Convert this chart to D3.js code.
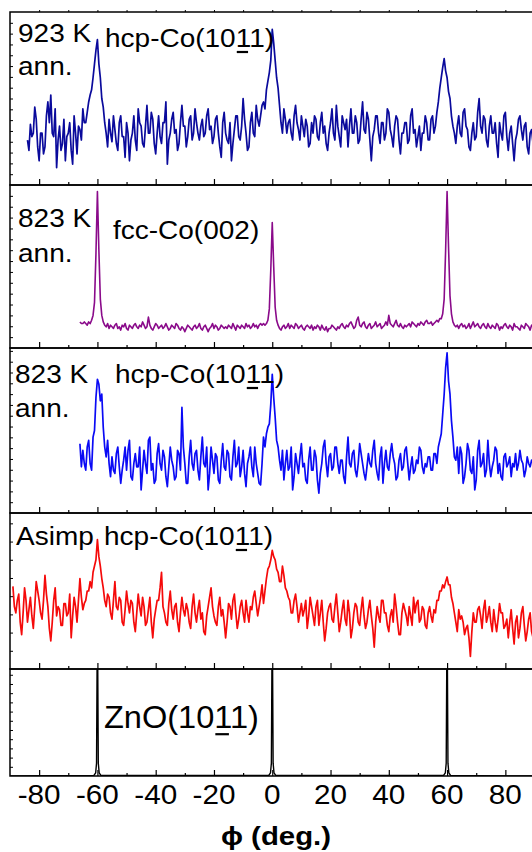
<!DOCTYPE html>
<html><head><meta charset="utf-8">
<script src="https://cdn.jsdelivr.net/npm/d3@7"></script>
<style>
html,body{margin:0;padding:0;background:#fff;overflow:hidden;}
svg{display:block;}
text{font-family:"Liberation Sans",Arial,sans-serif;fill:#000;}
</style></head>
<body>
<svg id="chart" width="532" height="852"></svg>
<script>
// ---------------- DATA ----------------
const phiDomain = [-90, 90];
const majorTicks = [-80, -60, -40, -20, 0, 20, 40, 60, 80];
const minorTicks = [-70, -50, -30, -10, 10, 30, 50, 70];
const tickLabels = ["-80", "-60", "-40", "-20", "0", "20", "40", "60", "80"];
const xTitle = "\u03D5 (deg.)";
const phiStep = 0.5;

// Panel 1: 923 K ann., hcp-Co(10-11), phi from -84 to 90
const start923hcp = -84;
const int923hcp = [
  26, 20, 35, 28, 30, 45, 38, 22, 14, 30, 30, 18, 22, 40, 48, 36, 52, 30, 28, 44,
  10, 26, 34, 20, 24, 38, 14, 28, 30, 36, 20, 12, 40, 30, 18, 34, 32, 26, 44, 36,
  36, 42, 48, 52, 55, 62, 70, 78, 84, 70, 62, 50, 45, 36, 30, 22, 38, 30, 25, 40,
  32, 24, 20, 36, 40, 28, 28, 16, 36, 30, 14, 26, 30, 40, 26, 20, 44, 36, 34, 24,
  22, 34, 46, 30, 30, 42, 38, 24, 18, 30, 40, 28, 24, 36, 36, 48, 12, 26, 30, 38,
  42, 30, 32, 20, 24, 36, 46, 34, 34, 22, 28, 38, 40, 26, 30, 44, 36, 30, 26, 34,
  38, 28, 30, 40, 44, 32, 34, 24, 28, 38, 40, 30, 22, 16, 36, 42, 30, 26, 24, 36,
  14, 24, 32, 40, 40, 28, 26, 34, 50, 38, 30, 20, 22, 36, 42, 30, 28, 46, 38, 34,
  40, 46, 48, 44, 55, 60, 65, 72, 90, 82, 72, 62, 56, 46, 36, 30, 44, 38, 30, 36,
  38, 30, 26, 40, 46, 36, 32, 26, 40, 34, 28, 38, 34, 22, 24, 36, 30, 40, 38, 28,
  26, 36, 42, 30, 34, 24, 20, 30, 36, 44, 30, 26, 46, 34, 28, 22, 40, 36, 32, 38,
  22, 34, 44, 30, 30, 40, 36, 24, 26, 38, 48, 32, 30, 42, 38, 26, 14, 28, 32, 40,
  40, 30, 24, 36, 36, 26, 30, 44, 42, 32, 28, 22, 34, 40, 38, 26, 18, 30, 30, 36,
  36, 24, 26, 40, 44, 30, 32, 22, 28, 34, 20, 30, 30, 40, 36, 26, 26, 38, 40, 30,
  34, 42, 48, 56, 62, 68, 73, 66, 62, 54, 50, 40, 34, 30, 24, 34, 40, 30, 28, 42,
  44, 34, 32, 22, 20, 30, 36, 26, 28, 42, 50, 34, 30, 40, 38, 26, 22, 34, 40, 30,
  30, 36, 24, 16, 36, 30, 26, 40, 42, 28, 20, 30, 34, 24, 14, 26, 30, 38, 40, 32,
  26, 34, 36, 22, 18, 30, 32, 24, 28
];

// Panel 2: 823 K ann., fcc-Co(002), phi from -66 to 90
const start823fcc = -66;
const int823fcc = [
  16, 15, 15, 16, 15, 14, 16, 15, 17, 20, 28, 58, 96, 60, 30, 20, 16, 14, 13, 15,
  12, 14, 13, 12, 14, 15, 12, 13, 11, 14, 13, 15, 12, 11, 14, 13, 12, 14, 15, 13,
  12, 14, 13, 16, 14, 12, 13, 19, 14, 12, 11, 13, 15, 14, 12, 13, 14, 12, 13, 15,
  13, 11, 12, 14, 13, 12, 15, 14, 12, 11, 13, 12, 10, 12, 14, 13, 12, 11, 13, 14,
  12, 13, 15, 12, 11, 13, 14, 12, 10, 12, 13, 15, 12, 14, 13, 11, 12, 14, 13, 12,
  13, 12, 14, 13, 12, 15, 13, 11, 14, 13, 12, 14, 13, 12, 15, 13, 14, 12, 13, 15,
  13, 14, 12, 14, 15, 14, 15, 14, 15, 17, 24, 48, 77, 50, 25, 17, 14, 12, 11, 13,
  14, 12, 13, 15, 12, 14, 13, 12, 15, 14, 12, 13, 14, 12, 11, 13, 14, 13, 12, 14,
  11, 13, 12, 14, 13, 11, 14, 12, 11, 13, 10, 12, 12, 14, 13, 12, 11, 13, 12, 14,
  15, 13, 12, 14, 13, 15, 16, 14, 12, 13, 17, 19, 14, 13, 15, 16, 13, 12, 14, 15,
  12, 13, 14, 16, 13, 14, 15, 12, 13, 14, 16, 14, 20, 15, 14, 13, 15, 17, 14, 13,
  15, 13, 12, 14, 13, 14, 15, 13, 16, 15, 14, 13, 15, 14, 16, 15, 14, 16, 17, 15,
  15, 16, 14, 15, 16, 17, 16, 18, 18, 21, 30, 60, 96, 62, 32, 21, 16, 14, 13, 14,
  12, 14, 15, 13, 14, 12, 13, 15, 12, 14, 16, 13, 14, 15, 13, 12, 14, 15, 13, 12,
  15, 13, 12, 14, 13, 12, 15, 14, 11, 13, 12, 14, 15, 13, 12, 14, 13, 11, 15, 13,
  13, 12, 11, 14, 13, 12, 15, 14, 13, 11, 14, 13, 14
];

// Panel 3: 823 K ann., hcp-Co(10-11), phi from -66 to 90
const start823hcp = -66;
const int823hcp = [
  42, 28, 38, 30, 26, 40, 44, 30, 26, 46, 50, 70, 81, 78, 68, 72, 52, 40, 34, 44,
  30, 22, 34, 26, 24, 36, 40, 28, 18, 26, 32, 40, 26, 38, 44, 22, 20, 30, 36, 28,
  28, 40, 14, 26, 38, 30, 24, 44, 46, 26, 30, 18, 20, 36, 42, 30, 26, 38, 34, 22,
  16, 28, 40, 32, 28, 20, 22, 38, 36, 26, 64, 40, 30, 18, 18, 34, 44, 30, 26, 36,
  38, 26, 20, 34, 46, 30, 28, 40, 14, 24, 40, 32, 24, 36, 34, 20, 18, 32, 42, 28,
  26, 38, 36, 22, 20, 34, 44, 28, 30, 40, 22, 28, 38, 24, 16, 30, 34, 40, 28, 22,
  40, 30, 24, 18, 17, 30, 46, 40, 48, 52, 54, 66, 84, 70, 58, 44, 40, 32, 26, 38,
  20, 30, 38, 26, 28, 40, 14, 22, 36, 30, 24, 34, 42, 28, 30, 20, 18, 32, 40, 26,
  26, 38, 34, 20, 12, 24, 30, 40, 44, 30, 22, 34, 36, 26, 28, 40, 40, 30, 24, 32,
  32, 22, 18, 34, 46, 30, 28, 36, 38, 26, 22, 30, 42, 36, 30, 24, 20, 28, 36, 30,
  28, 38, 44, 30, 24, 20, 34, 40, 18, 30, 38, 28, 26, 36, 42, 34, 30, 20, 22, 32,
  36, 26, 28, 38, 40, 30, 20, 28, 34, 24, 26, 32, 30, 40, 38, 28, 24, 30, 28, 34,
  34, 26, 26, 36, 36, 30, 40, 44, 48, 60, 72, 88, 97, 80, 72, 56, 46, 34, 32, 40,
  24, 40, 36, 18, 22, 30, 42, 38, 26, 24, 34, 14, 20, 38, 44, 28, 30, 36, 22, 26,
  44, 30, 22, 28, 32, 40, 38, 24, 30, 22, 20, 34, 36, 28, 30, 34, 22, 30, 28, 36,
  26, 30, 38, 32, 30, 22, 26, 34, 30, 28, 32, 30, 34
];

// Panel 4: as-deposited (Asimp), hcp-Co(10-11), phi from -89 to 90
const startAsHcp = -89;
const intAsHcp = [
  53, 40, 36, 44, 48, 30, 22, 36, 52, 44, 30, 38, 46, 34, 26, 40, 56, 50, 44, 36,
  32, 44, 60, 48, 40, 26, 18, 30, 44, 52, 34, 40, 38, 28, 28, 42, 42, 34, 36, 48,
  20, 34, 46, 40, 30, 44, 58, 46, 38, 42, 44, 50, 50, 56, 52, 62, 66, 70, 83, 72,
  66, 58, 52, 44, 40, 48, 46, 36, 32, 44, 56, 40, 38, 46, 44, 30, 28, 38, 50, 42,
  36, 44, 42, 30, 24, 36, 48, 40, 34, 46, 40, 28, 30, 38, 46, 30, 20, 32, 38, 44,
  44, 52, 62, 40, 36, 30, 28, 42, 50, 38, 32, 40, 42, 30, 24, 36, 46, 38, 34, 42,
  38, 30, 26, 40, 48, 36, 30, 38, 44, 32, 36, 24, 22, 34, 40, 46, 52, 40, 34, 30,
  28, 40, 46, 34, 38, 30, 20, 30, 42, 40, 32, 44, 48, 36, 26, 32, 40, 44, 36, 30,
  44, 36, 30, 40, 38, 46, 50, 42, 34, 40, 46, 54, 42, 50, 58, 64, 66, 70, 76, 72,
  70, 64, 62, 56, 56, 66, 60, 52, 50, 46, 44, 36, 36, 44, 48, 40, 30, 36, 42, 34,
  38, 44, 26, 34, 46, 40, 34, 28, 40, 44, 28, 36, 44, 30, 18, 26, 36, 40, 42, 32,
  30, 40, 48, 36, 24, 30, 38, 44, 32, 28, 44, 36, 20, 26, 36, 42, 40, 30, 28, 38,
  46, 34, 26, 30, 38, 44, 34, 26, 14, 30, 40, 34, 30, 44, 44, 36, 36, 28, 24, 34,
  38, 30, 48, 40, 30, 22, 22, 36, 42, 38, 34, 28, 40, 34, 28, 46, 36, 42, 44, 30,
  32, 40, 38, 28, 26, 36, 40, 34, 30, 38, 36, 44, 44, 50, 50, 54, 52, 56, 59, 54,
  54, 46, 42, 36, 30, 24, 38, 32, 34, 30, 22, 26, 28, 20, 8, 24, 36, 30, 30, 38,
  40, 34, 26, 38, 44, 30, 34, 40, 30, 24, 38, 30, 24, 32, 42, 36, 36, 26, 28, 32,
  20, 30, 38, 26, 16, 30, 34, 20, 26, 36, 40, 28, 18, 24, 32, 36, 24, 20, 30
];

// Panel 5: ZnO(10-11) substrate
const phiZnO = [-90, -61.2, -60.6, -60.3, -60, -59.7, -59.4, -58.8,
                -1.2, -0.6, -0.3, 0, 0.3, 0.6, 1.2,
                58.8, 59.4, 59.7, 60, 60.3, 60.6, 61.2, 90];
const intZnO = [0, 0.5, 3, 12, 160, 12, 3, 0.5,
                0.5, 3, 12, 160, 12, 3, 0.5,
                0.5, 3, 12, 160, 12, 3, 0.5, 0];

const panelNames = ["p923hcp", "p823fcc", "p823hcp", "pAsHcp", "pZnO"];
const seriesColors = ["#0a0a9c", "#8a0a8a", "#0a0af5", "#f50a0a", "#000000"];

// ---------------- LAYOUT ----------------
const W = 532, H = 852;
const xLeft = 10, xRight = 534.5;
const panelEdges = [12, 185, 348, 513, 669, 776];
const yTickSteps = [6.25, 6.667, 6.55, 11.67, 8.6];
const lineWidths = [1.7, 1.6, 1.7, 1.7, 1.4];
const TX = 1.12; // horizontal text stretch

const svg = d3.select("#chart");
const x = d3.scaleLinear().domain(phiDomain).range([xLeft, xRight]);

function gridSeries(start, vals) {
  return vals.map((v, i) => ({ phi: start + i * phiStep, v: v }));
}
const seriesData = [
  gridSeries(start923hcp, int923hcp),
  gridSeries(start823fcc, int823fcc),
  gridSeries(start823hcp, int823hcp),
  gridSeries(startAsHcp, intAsHcp),
  phiZnO.map((p, i) => ({ phi: p, v: intZnO[i] }))
];

const defs = svg.append("defs");

seriesData.forEach((data, k) => {
  const top = panelEdges[k], bot = panelEdges[k + 1];
  const y = d3.scaleLinear().domain([0, 100]).range([bot, top]);
  const g = svg.append("g").attr("class", panelNames[k]);

  defs.append("clipPath").attr("id", "clip" + k)
    .append("rect").attr("x", xLeft).attr("y", top)
    .attr("width", xRight - xLeft).attr("height", bot - top);

  const line = d3.line().x(d => x(d.phi)).y(d => y(d.v));
  g.append("path").datum(data)
    .attr("clip-path", "url(#clip" + k + ")")
    .attr("fill", "none")
    .attr("stroke", seriesColors[k])
    .attr("stroke-width", lineWidths[k])
    .attr("stroke-linejoin", "round")
    .attr("d", line);

  // bottom axis ticks (inward)
  const axMaj = g.append("g").attr("transform", `translate(0,${bot})`)
    .call(d3.axisBottom(x).tickValues(majorTicks).tickSize(-6).tickFormat(""));
  const axMin = g.append("g").attr("transform", `translate(0,${bot})`)
    .call(d3.axisBottom(x).tickValues(minorTicks).tickSize(-3).tickFormat(""));
  [axMaj, axMin].forEach(a => {
    a.select(".domain").remove();
    a.selectAll("line").attr("stroke", "#000").attr("stroke-width", 1.2);
  });

  // left axis ticks (inward)
  const yt = d3.range(yTickSteps[k], 100 - 0.5, yTickSteps[k]);
  const axL = g.append("g").attr("transform", `translate(${xLeft},0)`)
    .call(d3.axisLeft(y).tickValues(yt).tickSize(-3).tickFormat(""));
  axL.select(".domain").remove();
  axL.selectAll("line").attr("stroke", "#000").attr("stroke-width", 1);

  // frame
  g.append("rect").attr("x", xLeft).attr("y", top)
    .attr("width", xRight - xLeft).attr("height", bot - top)
    .attr("fill", "none").attr("stroke", "#000").attr("stroke-width", 1.5);
});

// top ticks of first panel (small, outward)
svg.append("g").attr("transform", `translate(0,${panelEdges[0]})`)
  .call(d3.axisTop(x).tickValues(majorTicks.concat(minorTicks)).tickSize(2).tickFormat(""))
  .call(a => { a.select(".domain").remove(); a.selectAll("line").attr("stroke", "#000"); });

// tick labels
svg.append("g").selectAll("text").data(majorTicks).join("text")
  .attr("transform", d => `translate(${x(d)},804) scale(1.1,1)`)
  .attr("text-anchor", "middle")
  .attr("font-size", 27)
  .text((d, i) => tickLabels[i]);

// axis title
svg.append("text")
  .attr("transform", "translate(276,845) scale(1.13,1)")
  .attr("text-anchor", "middle")
  .attr("font-size", 26).attr("font-weight", "bold")
  .text(xTitle);

// panel labels
function label(str, px, py, underlineIdx, fs, sx) {
  fs = fs || 25; sx = sx || TX;
  const g = svg.append("g").attr("transform", `translate(${px},${py}) scale(${sx},1)`);
  const t = g.append("text").attr("x", 0).attr("y", 0).attr("font-size", fs).text(str);
  if (underlineIdx != null) {
    const n = t.node();
    const s = n.getStartPositionOfChar(underlineIdx).x;
    const e = n.getEndPositionOfChar(underlineIdx).x;
    g.append("line").attr("x1", s + 1).attr("x2", e - 1)
      .attr("y1", fs * 0.2).attr("y2", fs * 0.2)
      .attr("stroke", "#000").attr("stroke-width", 2.2);
  }
}
label("923 K", 18, 42);
label("ann.", 18, 75);
label("hcp-Co(1011)", 105, 47, 9);
label("823 K", 18, 227);
label("ann.", 18, 262);
label("fcc-Co(002)", 113, 239);
label("823 K", 15, 383);
label("ann.", 15, 417);
label("hcp-Co(1011)", 115, 383, 9);
label("Asimp", 16, 545);
label("hcp-Co(1011)", 104, 545, 9);
label("ZnO(1011)", 104, 728, 6, 31, 1.05);
</script>
</body></html>
